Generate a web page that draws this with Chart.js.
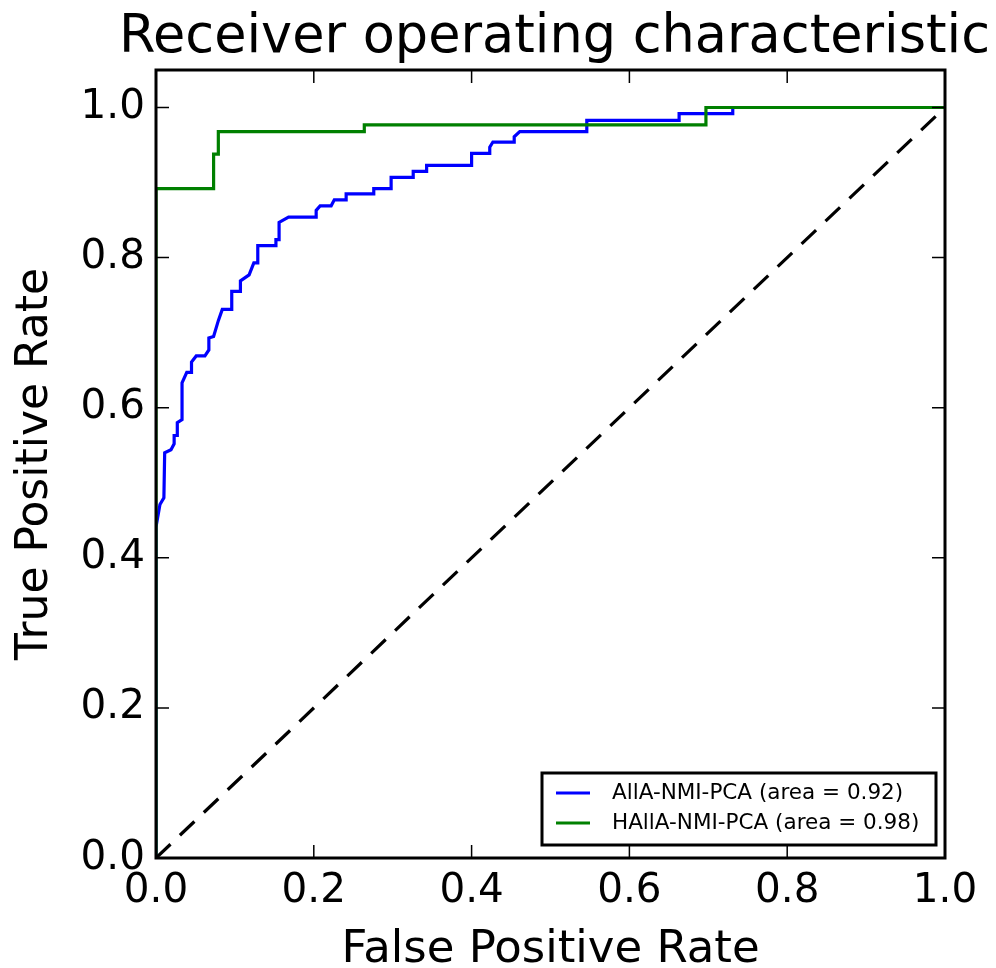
<!DOCTYPE html>
<html>
<head>
<meta charset="utf-8">
<title>Receiver operating characteristic</title>
<script src="https://cdn.jsdelivr.net/npm/chart.js@4.4.1/dist/chart.umd.min.js"></script>
<style>
  html, body { margin: 0; padding: 0; background: #fff; }
</style>
</head>
<body>
<canvas id="rocChart" width="996" height="968"></canvas>
<script>
const FONT = "'DejaVu Sans', sans-serif";

const chartTitle = "Receiver operating characteristic";
const xTitle = "False Positive Rate";
const yTitle = "True Positive Rate";

const seriesLabels = ["AllA-NMI-PCA (area = 0.92)", "HAllA-NMI-PCA (area = 0.98)"];
const seriesColors = ["#0000ff", "#008000"];

// ROC curve corners (false positive rate / true positive rate)
const allaFpr = [0, 0, 0.005, 0.010, 0.011, 0.019, 0.023, 0.023, 0.027, 0.027, 0.033, 0.033,
  0.039, 0.045, 0.045, 0.051, 0.062, 0.067, 0.067, 0.073, 0.079, 0.084, 0.096, 0.096,
  0.107, 0.107, 0.118, 0.124, 0.129, 0.129, 0.152, 0.152, 0.156, 0.156, 0.168, 0.203,
  0.203, 0.208, 0.222, 0.226, 0.241, 0.241, 0.276, 0.276, 0.298, 0.298, 0.326, 0.326,
  0.343, 0.343, 0.400, 0.400, 0.423, 0.423, 0.427, 0.454, 0.454, 0.461, 0.546, 0.546,
  0.663, 0.663, 0.731, 0.731, 1.0];
const allaTpr = [0, 0.441, 0.471, 0.480, 0.540, 0.544, 0.552, 0.563, 0.563, 0.580, 0.584, 0.633,
  0.647, 0.647, 0.661, 0.669, 0.669, 0.677, 0.693, 0.695, 0.716, 0.731, 0.731, 0.755,
  0.755, 0.769, 0.777, 0.793, 0.793, 0.816, 0.816, 0.824, 0.824, 0.847, 0.854, 0.854,
  0.863, 0.869, 0.869, 0.877, 0.877, 0.885, 0.885, 0.892, 0.892, 0.907, 0.907, 0.915,
  0.915, 0.923, 0.923, 0.939, 0.939, 0.947, 0.954, 0.954, 0.961, 0.968, 0.968, 0.983,
  0.983, 0.992, 0.992, 1.0, 1.0];

const hallaFpr = [0, 0, 0.073, 0.073, 0.079, 0.079, 0.264, 0.264, 0.697, 0.697, 1.0];
const hallaTpr = [0, 0.892, 0.892, 0.938, 0.938, 0.968, 0.968, 0.977, 0.977, 1.0, 1.0];

const chanceFpr = [0, 1];
const chanceTpr = [0, 1];

const tickValues = [0, 0.2, 0.4, 0.6, 0.8, 1.0];

function toPoints(xs, ys) {
  return xs.map((x, i) => ({ x: x, y: ys[i] }));
}

// frame, inward ticks, title and legend box
const axesFrame = {
  id: "axesFrame",
  afterDatasetsDraw(chart) {
    const { ctx, chartArea: a, scales: { x, y } } = chart;
    ctx.save();
    ctx.strokeStyle = "#000";
    ctx.lineWidth = 1.5;
    const len = 13;
    ctx.beginPath();
    tickValues.forEach((v) => {
      const px = x.getPixelForValue(v);
      ctx.moveTo(px, a.bottom); ctx.lineTo(px, a.bottom - len);
      ctx.moveTo(px, a.top); ctx.lineTo(px, a.top + len);
      const py = y.getPixelForValue(v);
      ctx.moveTo(a.left, py); ctx.lineTo(a.left + len, py);
      ctx.moveTo(a.right, py); ctx.lineTo(a.right - len, py);
    });
    ctx.stroke();

    ctx.lineWidth = 3;
    ctx.strokeRect(a.left, a.top, a.right - a.left, a.bottom - a.top);

    // legend, lower right inside the axes
    const bw = 394, bh = 72;
    const bx = a.right - 9 - bw, by = a.bottom - 13 - bh;
    ctx.fillStyle = "#fff";
    ctx.fillRect(bx, by, bw, bh);
    ctx.lineWidth = 3;
    ctx.strokeRect(bx, by, bw, bh);
    ctx.font = "21.5px " + FONT;
    ctx.textBaseline = "middle";
    ctx.textAlign = "left";
    seriesLabels.forEach((label, i) => {
      const ry = by + 20 + i * 30;
      ctx.strokeStyle = seriesColors[i];
      ctx.lineWidth = 3.2;
      ctx.beginPath();
      ctx.moveTo(bx + 14, ry);
      ctx.lineTo(bx + 48, ry);
      ctx.stroke();
      ctx.fillStyle = "#000";
      ctx.fillText(label, bx + 70, ry);
    });

    ctx.font = "52.5px " + FONT;
    ctx.textAlign = "center";
    ctx.textBaseline = "alphabetic";
    ctx.fillStyle = "#000";
    ctx.fillText(chartTitle, (a.left + a.right) / 2 + 4, 52);
    ctx.restore();
  }
};

new Chart(document.getElementById("rocChart"), {
  type: "scatter",
  data: {
    datasets: [
      {
        label: seriesLabels[1],
        data: toPoints(hallaFpr, hallaTpr),
        borderColor: seriesColors[1],
        order: 1
      },
      {
        label: seriesLabels[0],
        data: toPoints(allaFpr, allaTpr),
        borderColor: seriesColors[0],
        order: 2
      },
      {
        label: "chance",
        data: toPoints(chanceFpr, chanceTpr),
        borderColor: "#000",
        borderDash: [20, 13],
        order: 0
      }
    ]
  },
  options: {
    responsive: false,
    animation: false,
    showLine: true,
    datasets: {
      scatter: {
        showLine: true,
        borderWidth: 3.2,
        pointRadius: 0,
        pointHoverRadius: 0,
        tension: 0,
        fill: false
      }
    },
    layout: { padding: { top: 70, right: 51, left: 0, bottom: 0 } },
    plugins: {
      legend: { display: false },
      tooltip: { enabled: false },
      title: { display: false }
    },
    scales: {
      x: {
        type: "linear",
        min: 0,
        max: 1,
        grid: { display: false, drawTicks: false },
        border: { display: false },
        ticks: {
          stepSize: 0.2,
          padding: 9,
          color: "#000",
          font: { family: FONT, size: 40.5 },
          callback: (v) => v.toFixed(1)
        },
        title: {
          display: true,
          text: xTitle,
          color: "#000",
          font: { family: FONT, size: 45, lineHeight: 0.8 },
          padding: { top: 0, bottom: 0 }
        },
        afterFit: (s) => { s.height = 110; }
      },
      y: {
        type: "linear",
        min: 0,
        max: 1.05,
        grid: { display: false, drawTicks: false },
        border: { display: false },
        ticks: {
          stepSize: 0.2,
          includeBounds: false,
          padding: 11,
          color: "#000",
          font: { family: FONT, size: 40.5 },
          callback: (v) => (v > 1.001 ? "" : v.toFixed(1))
        },
        title: {
          display: true,
          text: yTitle,
          color: "#000",
          font: { family: FONT, size: 44, lineHeight: 1 },
          padding: { top: 14, bottom: 0 }
        },
        afterFit: (s) => { s.width = 156; }
      }
    }
  },
  plugins: [axesFrame]
});
</script>
</body>
</html>
